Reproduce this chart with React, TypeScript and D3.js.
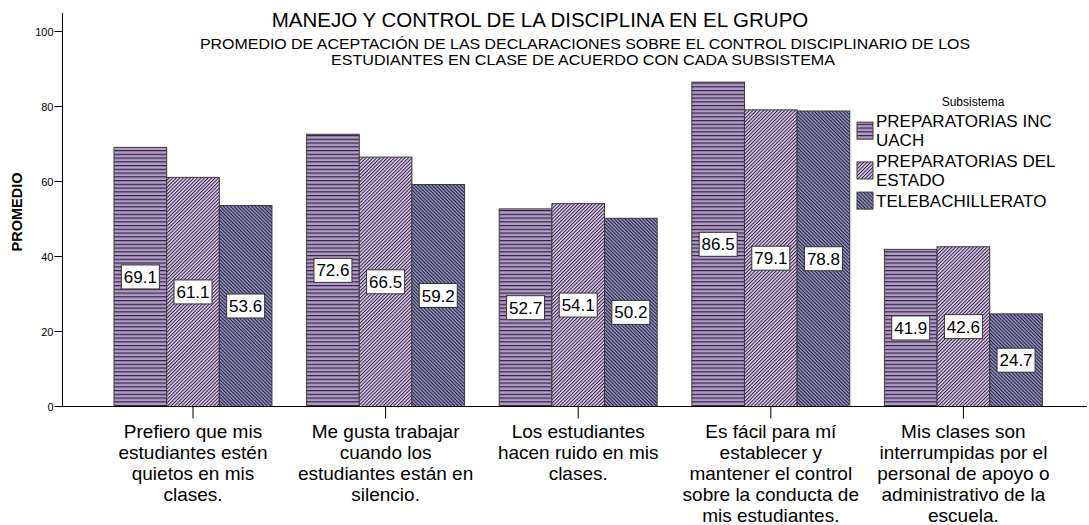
import React from "react";
import * as d3 from "d3";

// category labels, already wrapped the way the chart shows them
const categoryLines: string[][] = [
  ["Prefiero que mis", "estudiantes estén", "quietos en mis", "clases."],
  ["Me gusta trabajar", "cuando los", "estudiantes están en", "silencio."],
  ["Los estudiantes", "hacen ruido en mis", "clases."],
  ["Es fácil para mí", "establecer y", "mantener el control", "sobre la conducta de", "mis estudiantes."],
  ["Mis clases son", "interrumpidas por el", "personal de apoyo o", "administrativo de la", "escuela."],
];

const seriesLabels: string[][] = [
  ["PREPARATORIAS INC", "UACH"],
  ["PREPARATORIAS DEL", "ESTADO"],
  ["TELEBACHILLERATO"],
];

const incUach = [69.1, 72.6, 52.7, 86.5, 41.9];
const delEstado = [61.1, 66.5, 54.1, 79.1, 42.6];
const telebachillerato = [53.6, 59.2, 50.2, 78.8, 24.7];

const yTicks = [0, 20, 40, 60, 80, 100];

const W = 1089;
const H = 525;
const FONT = "'Liberation Sans', Arial, sans-serif";

const patternIds = ["pat-h", "pat-fwd", "pat-back"];

const App = () => {
  const series = [incUach, delEstado, telebachillerato];

  const x0 = d3
    .scaleBand<number>()
    .domain(d3.range(categoryLines.length))
    .range([96.7, 1059.7])
    .paddingInner(0.18)
    .paddingOuter(0.09);

  const x1 = d3
    .scaleBand<number>()
    .domain(d3.range(series.length))
    .range([0, x0.bandwidth()]);

  const y = d3.scaleLinear().domain([0, 100]).range([406.5, 31.5]);

  const axisX = 62.5;
  const baseY = y(0);

  // legend layout
  const legendLineH = 19.3;
  let ly = 121;
  const legendItems = seriesLabels.map((lines, i) => {
    const item = { i, lines, y: ly };
    ly += (lines.length - 1) * legendLineH + 20.5;
    return item;
  });

  return (
    <svg
      width={W}
      height={H}
      style={{ position: "absolute", left: 0, top: 0, display: "block", background: "#fff" }}
      fontFamily={FONT}
    >
      <defs>
        <pattern id="pat-h" patternUnits="userSpaceOnUse" width={8} height={3.75}>
          <rect width={8} height={3.75} fill="#b39acb" />
          <rect y={0} width={8} height={1.2} fill="#2e2636" />
        </pattern>
        <pattern
          id="pat-fwd"
          patternUnits="userSpaceOnUse"
          width={8}
          height={2.5}
          patternTransform="rotate(-45)"
        >
          <rect width={8} height={2.5} fill="#dcc6ef" />
          <rect y={0} width={8} height={0.95} fill="#2a2433" />
        </pattern>
        <pattern
          id="pat-back"
          patternUnits="userSpaceOnUse"
          width={8}
          height={2.5}
          patternTransform="rotate(45)"
        >
          <rect width={8} height={2.5} fill="#8e8cc2" />
          <rect y={0} width={8} height={0.95} fill="#22222e" />
        </pattern>
      </defs>

      {/* titles */}
      <text x={540} y={27} textAnchor="middle" fontSize={20.5} fill="#000">
        MANEJO Y CONTROL DE LA DISCIPLINA EN EL GRUPO
      </text>
      <text
        x={585}
        y={49}
        textAnchor="middle"
        fontSize={15.5}
        textLength={770}
        lengthAdjust="spacingAndGlyphs"
        fill="#000"
      >
        PROMEDIO DE ACEPTACIÓN DE LAS DECLARACIONES SOBRE EL CONTROL DISCIPLINARIO DE LOS
      </text>
      <text
        x={583}
        y={65}
        textAnchor="middle"
        fontSize={15.5}
        textLength={504}
        lengthAdjust="spacingAndGlyphs"
        fill="#000"
      >
        ESTUDIANTES EN CLASE DE ACUERDO CON CADA SUBSISTEMA
      </text>

      {/* bars */}
      {series.map((vals, s) =>
        vals.map((v, c) => (
          <rect
            key={`b-${s}-${c}`}
            x={(x0(c) ?? 0) + (x1(s) ?? 0)}
            y={y(v)}
            width={x1.bandwidth()}
            height={baseY - y(v)}
            fill={`url(#${patternIds[s]})`}
            stroke="#3a3a3a"
            strokeWidth={1}
          />
        ))
      )}

      {/* value labels */}
      {series.map((vals, s) =>
        vals.map((v, c) => {
          const cx = (x0(c) ?? 0) + (x1(s) ?? 0) + x1.bandwidth() / 2;
          const cy = (y(v) + baseY) / 2;
          return (
            <g key={`l-${s}-${c}`}>
              <rect
                x={cx - 19}
                y={cy - 12}
                width={38}
                height={24}
                fill="#fff"
                stroke="#333"
                strokeWidth={1}
              />
              <text x={cx} y={cy + 6} textAnchor="middle" fontSize={17} fill="#000">
                {v.toFixed(1)}
              </text>
            </g>
          );
        })
      )}

      {/* y axis */}
      <line x1={axisX} x2={axisX} y1={13} y2={baseY} stroke="#000" strokeWidth={1} />
      {yTicks.map((t) => (
        <g key={`yt-${t}`}>
          <line x1={axisX - 8} x2={axisX} y1={y(t)} y2={y(t)} stroke="#000" strokeWidth={1} />
          <text x={axisX - 9} y={y(t) + 4} textAnchor="end" fontSize={11} fill="#000">
            {t}
          </text>
        </g>
      ))}
      <text
        transform={`translate(22,212) rotate(-90)`}
        textAnchor="middle"
        fontSize={14.5}
        fontWeight="bold"
        fill="#000"
      >
        PROMEDIO
      </text>

      {/* x axis */}
      <line x1={axisX} x2={W - 2} y1={baseY} y2={baseY} stroke="#000" strokeWidth={1} />
      {categoryLines.map((lines, c) => {
        const cx = (x0(c) ?? 0) + x0.bandwidth() / 2;
        return (
          <g key={`xt-${c}`}>
            <line x1={cx} x2={cx} y1={baseY} y2={baseY + 12} stroke="#000" strokeWidth={1} />
            {lines.map((ln, k) => (
              <text
                key={k}
                x={cx}
                y={438 + k * 21.1}
                textAnchor="middle"
                fontSize={19}
                fill="#000"
              >
                {ln}
              </text>
            ))}
          </g>
        );
      })}

      {/* legend */}
      <text x={973} y={106} textAnchor="middle" fontSize={12} fill="#000">
        Subsistema
      </text>
      {legendItems.map((it) => {
        const mid = it.y + ((it.lines.length - 1) * legendLineH) / 2;
        return (
          <g key={`lg-${it.i}`}>
            <rect
              x={857}
              y={mid - 8.5}
              width={16}
              height={17}
              fill={`url(#${patternIds[it.i]})`}
              stroke="#3a3a3a"
              strokeWidth={1}
            />
            {it.lines.map((ln, k) => (
              <text
                key={k}
                x={876}
                y={it.y + k * legendLineH + 6}
                fontSize={17}
                fill="#000"
              >
                {ln}
              </text>
            ))}
          </g>
        );
      })}
    </svg>
  );
};

export default App;
